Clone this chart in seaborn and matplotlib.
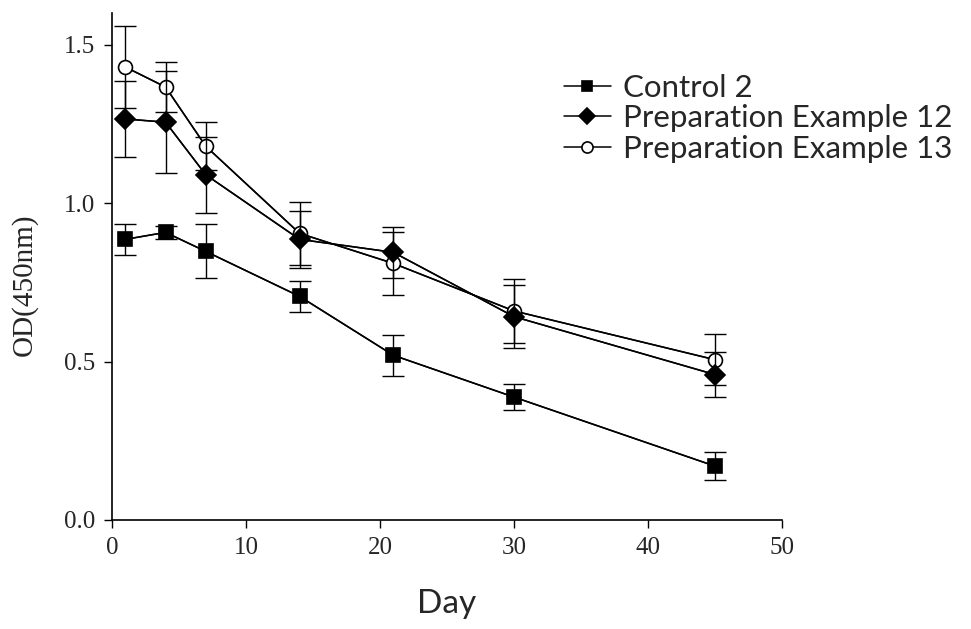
import matplotlib
matplotlib.use("Agg")
import matplotlib.pyplot as plt
import seaborn as sns
import pandas as pd
import numpy as np

days = [1, 4, 7, 14, 21, 30, 45]
control2 = [0.886, 0.908, 0.848, 0.706, 0.520, 0.388, 0.170]
control2_err = [0.05, 0.02, 0.085, 0.05, 0.065, 0.04, 0.045]
prep12 = [1.266, 1.256, 1.090, 0.886, 0.845, 0.642, 0.459]
prep12_err = [0.12, 0.16, 0.12, 0.09, 0.08, 0.10, 0.07]
prep13 = [1.430, 1.367, 1.180, 0.905, 0.810, 0.660, 0.506]
prep13_err = [0.13, 0.08, 0.075, 0.10, 0.10, 0.10, 0.08]

series_names = ["Control 2", "Preparation Example 12", "Preparation Example 13"]
x_ticks = [0, 10, 20, 30, 40, 50]
y_ticks = [0.0, 0.5, 1.0, 1.5]
y_ticklabels = ["0.0", "0.5", "1.0", "1.5"]

vals = [control2, prep12, prep13]
errs = [control2_err, prep12_err, prep13_err]
df = pd.DataFrame({
    "Day": days * 3,
    "OD": sum(vals, []),
    "err": sum(errs, []),
    "Group": [n for n in series_names for _ in days],
})

sns.set_style("white")
fig = plt.figure(figsize=(9.71, 6.29), dpi=100)
ax = fig.add_axes([0.1153, 0.1733, 0.8054 - 0.1153, 0.979 - 0.1733])

styles = {
    "Control 2": dict(marker="s", mfc="black", ms=9.5, z=3),
    "Preparation Example 12": dict(marker="D", mfc="black", ms=10, z=4),
    "Preparation Example 13": dict(marker="o", mfc="white", ms=10, z=2),
}

sns.lineplot(data=df, x="Day", y="OD", hue="Group", style="Group",
             palette=["black"] * 3, markers=["s", "D", "o"], dashes=False,
             ax=ax, legend=False, linewidth=1.1, markersize=0)

handles = []
for name in series_names:
    sub = df[df["Group"] == name]
    st = styles[name]
    ax.errorbar(sub["Day"], sub["OD"], yerr=sub["err"], fmt="none",
                ecolor="black", elinewidth=1.0, capsize=8, capthick=1.0,
                zorder=st["z"])
    h, = ax.plot(sub["Day"], sub["OD"], color="black", lw=1.1,
                 marker=st["marker"], ms=st["ms"], mfc=st["mfc"],
                 mec="black", mew=1.2, zorder=st["z"] + 0.5, label=name)
    handles.append(h)

ax.set_xlim(0, 50)
ax.set_ylim(0, 1.6)
ax.set_xticks(x_ticks)
ax.set_yticks(y_ticks)
ax.tick_params(axis="both", direction="out", length=6, width=1.0,
               color="black", left=True, bottom=True, pad=6, labelsize=18)
ax.set_yticklabels(y_ticklabels, fontfamily="Liberation Serif", fontsize=18)
ax.set_xticklabels([str(t) for t in x_ticks], fontfamily="Liberation Serif", fontsize=18)

for s in ["top", "right"]:
    ax.spines[s].set_visible(False)
for s in ["left", "bottom"]:
    ax.spines[s].set_color("black")
    ax.spines[s].set_linewidth(1.2)

ax.set_xlabel("Day", family="Lato", fontsize=24, labelpad=22)
ax.set_ylabel("OD(450nm)", family="Liberation Serif", fontsize=21)
ax.yaxis.set_label_coords(-0.11, 0.464)

leg = fig.legend(handles=handles, labels=series_names, loc="upper left",
                 bbox_to_anchor=(548 / 971, 1 - 58 / 629), frameon=False,
                 prop={"family": "Lato", "size": 22.5}, handlelength=1.5,
                 handletextpad=0.4, labelspacing=0.08, borderpad=0,
                 markerscale=0.8)

fig.savefig("out.png", dpi=100)
